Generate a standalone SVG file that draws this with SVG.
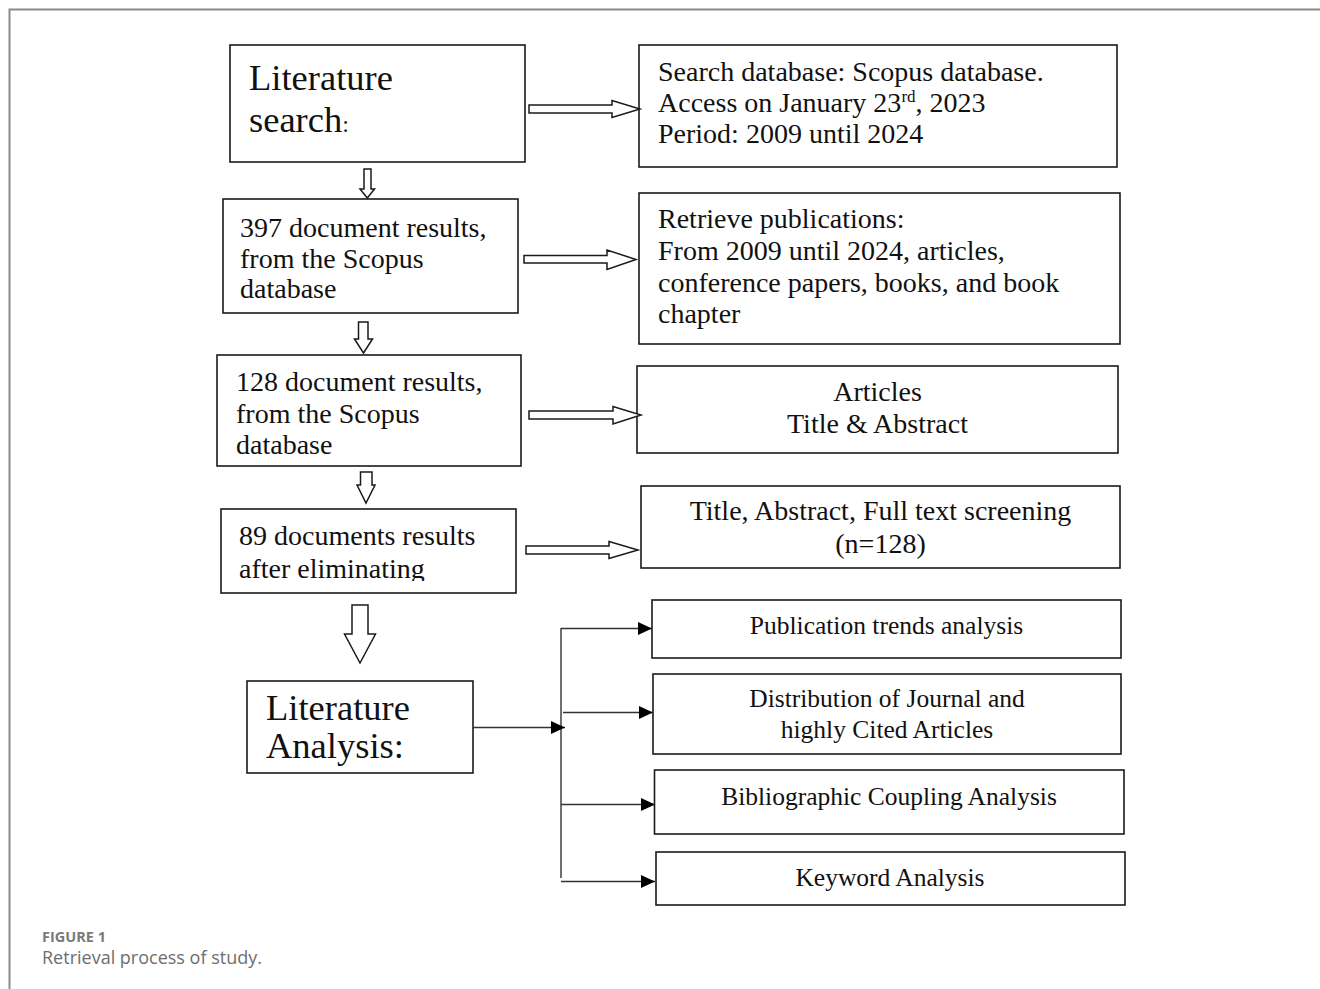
<svg xmlns="http://www.w3.org/2000/svg" width="1320" height="989" viewBox="0 0 1320 989">
<style>
.box{fill:#fff;stroke:#1a1a1a;stroke-width:1.6}
.t{font-family:"Liberation Serif","Times New Roman",serif;font-size:28px;fill:#111}
.tb{font-family:"Liberation Serif","Times New Roman",serif;font-size:36.5px;fill:#111}
.ts{font-family:"Liberation Serif","Times New Roman",serif;font-size:25.5px;fill:#111}
.c{text-anchor:middle}
.blk{fill:#fff;stroke:#1a1a1a;stroke-width:1.5;stroke-linejoin:miter}
.ln{fill:none;stroke:#333;stroke-width:1.4}
.cap1{font-family:"Open Sans","Lato",sans-serif;font-size:14.5px;font-weight:700;fill:#7a7a7a}
.cap2{font-family:"Open Sans","Lato",sans-serif;font-size:18px;fill:#6e6e6e}
</style>
<defs>
<marker id="ah" markerUnits="userSpaceOnUse" markerWidth="14" markerHeight="13" refX="14" refY="6.5" orient="auto">
<path d="M0,0 L14,6.5 L0,13 z" fill="#000"/>
</marker>
<clipPath id="clip7"><rect x="221" y="509" width="295" height="72"/></clipPath>
</defs>
<rect width="1320" height="989" fill="#fff"/>
<path d="M9.5,989 V9.5 H1320" fill="none" stroke="#8a8a8a" stroke-width="2"/>

<g id="n1">
<rect class="box" x="230" y="45" width="295" height="117"/>
<text class="tb" x="249" y="90">Literature</text>
<text class="tb" x="249" y="132">search<tspan font-size="24">:</tspan></text>
</g>
<g id="n2">
<rect class="box" x="639" y="45" width="478" height="122"/>
<text class="t" x="658" y="81">Search database: Scopus database.</text>
<text class="t" x="658" y="112">Access on January 23<tspan font-size="17" dy="-10">rd</tspan><tspan dy="10">, 2023</tspan></text>
<text class="t" x="658" y="143">Period: 2009 until 2024</text>
</g>
<g id="n3">
<rect class="box" x="223" y="199" width="295" height="114"/>
<text class="t" x="240" y="237">397 document results,</text>
<text class="t" x="240" y="268">from the Scopus</text>
<text class="t" x="240" y="298">database</text>
</g>
<g id="n4">
<rect class="box" x="639" y="193" width="481" height="151"/>
<text class="t" x="658" y="228">Retrieve publications:</text>
<text class="t" x="658" y="260">From 2009 until 2024, articles,</text>
<text class="t" x="658" y="292">conference papers, books, and book</text>
<text class="t" x="658" y="323">chapter</text>
</g>
<g id="n5">
<rect class="box" x="217" y="355" width="304" height="111"/>
<text class="t" x="236" y="391">128 document results,</text>
<text class="t" x="236" y="423">from the Scopus</text>
<text class="t" x="236" y="454">database</text>
</g>
<g id="n6">
<rect class="box" x="637" y="366" width="481" height="87"/>
<text class="t c" x="877.5" y="401">Articles</text>
<text class="t c" x="877.5" y="433">Title &amp; Abstract</text>
</g>
<g id="n7">
<rect class="box" x="221" y="509" width="295" height="84"/>
<g clip-path="url(#clip7)">
<text class="t" x="239" y="545">89 documents results</text>
<text class="t" x="239" y="578">after eliminating</text>
</g>
</g>
<g id="n8">
<rect class="box" x="641" y="486" width="479" height="82"/>
<text class="t c" x="880.5" y="520">Title, Abstract, Full text screening</text>
<text class="t c" x="880.5" y="553">(n=128)</text>
</g>
<g id="n9">
<rect class="box" x="247" y="681" width="226" height="92"/>
<text class="tb" x="266" y="720" font-size="32">Literature</text>
<text class="tb" x="266" y="758" font-size="32">Analysis:</text>
</g>
<g id="n10">
<rect class="box" x="652" y="600" width="469" height="58"/>
<text class="ts c" x="886.5" y="634">Publication trends analysis</text>
</g>
<g id="n11">
<rect class="box" x="653" y="674" width="468" height="80"/>
<text class="ts c" x="887" y="707">Distribution of Journal and</text>
<text class="ts c" x="887" y="738">highly Cited Articles</text>
</g>
<g id="n12">
<rect class="box" x="654.5" y="770" width="469.5" height="64"/>
<text class="ts c" x="889" y="805">Bibliographic Coupling Analysis</text>
</g>
<g id="n13">
<rect class="box" x="656" y="852" width="469" height="53"/>
<text class="ts c" x="890" y="886">Keyword Analysis</text>
</g>

<g id="connectors">
<polygon class="blk" points="529,105 612,105 612,100.5 640,109 612,117.5 612,113 529,113"/>
<polygon class="blk" points="524,255.5 607,255.5 607,250 636,259.5 607,269.5 607,263 524,263"/>
<polygon class="blk" points="529,411 613,411 613,406.5 641,415 613,424 613,419 529,419"/>
<polygon class="blk" points="526,546 609,546 609,541.5 638,550 609,558.5 609,554 526,554"/>
<polygon class="blk" points="364,169 371,169 371,189 374.5,189 367.3,198 360,189 364,189"/>
<polygon class="blk" points="358.5,322 368,322 368,339 372.5,339 363.5,353 354.5,339 358.5,339"/>
<polygon class="blk" points="360.5,472 372,472 372,485 375,485 366,503 357,485 360.5,485"/>
<polygon class="blk" points="352,605 368,605 368,634 375.5,634 360,663 344.5,634 352,634"/>
<path class="ln" d="M561,628 V878"/>
<path class="ln" d="M561,628.5 H652" marker-end="url(#ah)"/>
<path class="ln" d="M563,712.5 H653" marker-end="url(#ah)"/>
<path class="ln" d="M473,727.5 H565" marker-end="url(#ah)"/>
<path class="ln" d="M561,804.5 H655" marker-end="url(#ah)"/>
<path class="ln" d="M561,881.5 H655" marker-end="url(#ah)"/>
</g>

<text class="cap1" x="42" y="942">FIGURE 1</text>
<text class="cap2" x="42" y="964">Retrieval process of study.</text>
</svg>
